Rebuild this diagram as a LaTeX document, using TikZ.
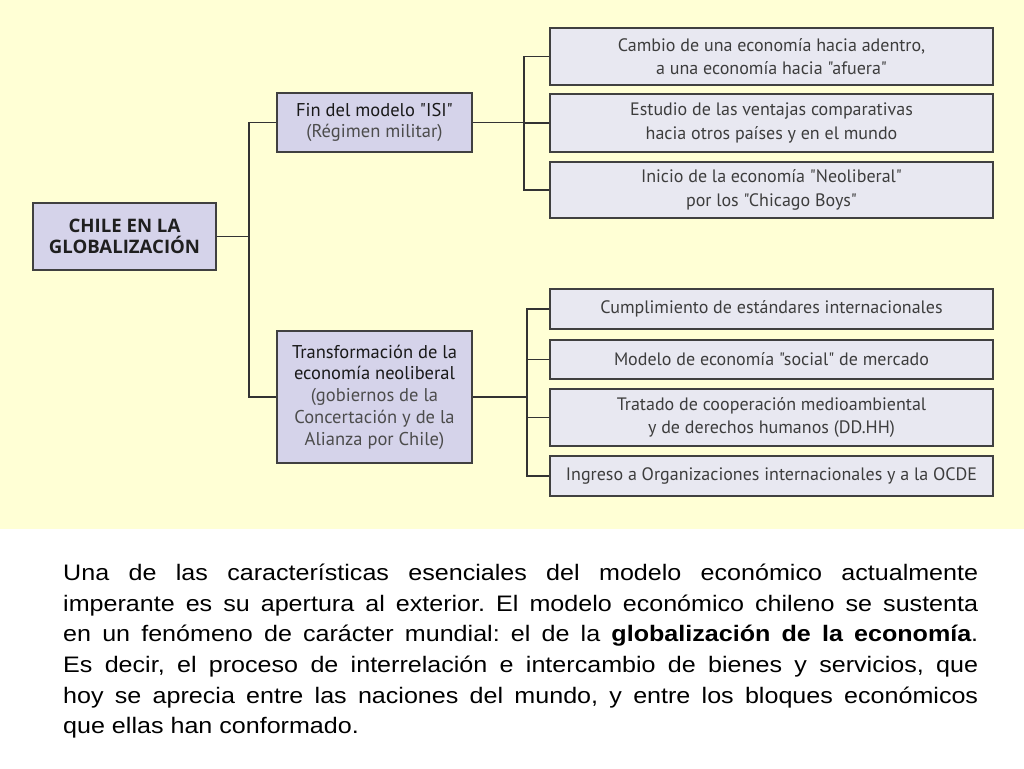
\documentclass[tikz,border=0pt]{standalone}
\usepackage{fontspec}
\newfontfamily\boxfont{PT Sans}
\newfontfamily\rootfont{Open Sans}
\newfontfamily\parafont{Liberation Sans}[FakeStretch=1.12]
\begin{document}
\begin{tikzpicture}[x=1pt,y=-1pt,
  conn/.style={draw=black!80, line width=1.1pt},
  midbox/.style={draw=black!75, line width=1.1pt, fill=midfill, inner sep=0pt,
     minimum width=195pt, align=center, text=black!90,
     font=\boxfont\fontsize{18.5}{21.7}\selectfont},
  leafbox/.style={draw=black!75, line width=1.1pt, fill=leaffill, inner sep=0pt,
     minimum width=443pt, align=center, text=black!76,
     font=\boxfont\fontsize{18}{23.3}\selectfont},
  rootbox/.style={draw=black!75, line width=1.1pt, fill=midfill, inner sep=0pt,
     minimum width=183pt, minimum height=67pt, align=center, text=black!88,
     font=\rootfont\bfseries\fontsize{18.6}{21.5}\selectfont}
]
\definecolor{bgyellow}{RGB}{255,255,213}
\definecolor{midfill}{RGB}{213,211,234}
\definecolor{leaffill}{RGB}{232,232,241}
\useasboundingbox (0,0) rectangle (1024,768);
\fill[white] (0,0) rectangle (1024,768);
\fill[bgyellow] (0,0) rectangle (1024,529);

\node[rootbox] (root) at (124.5,236.5) {CHILE EN LA\\GLOBALIZACIÓN};
\node[midbox, minimum height=59pt] (isi) at (374.5,122.5)
  {Fin del modelo "ISI"\\{\color{black!70}(Régimen militar)}};
\node[midbox, minimum height=132pt] (tr) at (374.5,397)
  {Transformación de la\\economía neoliberal\\{\color{black!70}(gobiernos de la}\\{\color{black!70}Concertación y de la}\\{\color{black!70}Alianza por Chile)}};

\node[leafbox, minimum height=57pt] (l1) at (771.5,56.5)
  {Cambio de una economía hacia adentro,\\a una economía hacia "afuera"};
\node[leafbox, minimum height=58pt] (l2) at (771.5,123)
  {Estudio de las ventajas comparativas\\hacia otros países y en el mundo};
\node[leafbox, minimum height=56pt] (l3) at (771.5,190)
  {Inicio de la economía "Neoliberal"\\por los "Chicago Boys"};
\node[leafbox, minimum height=40pt] (l4) at (771.5,309)
  {Cumplimiento de estándares internacionales};
\node[leafbox, minimum height=39pt] (l5) at (771.5,359.5)
  {Modelo de economía "social" de mercado};
\node[leafbox, minimum height=57pt] (l6) at (771.5,417.5)
  {Tratado de cooperación medioambiental\\y de derechos humanos (DD.HH)};
\node[leafbox, minimum height=40pt] (l7) at (771.5,476)
  {Ingreso a Organizaciones internacionales y a la OCDE};

\coordinate (t1) at (249,0);
\coordinate (b1) at (524,0);
\coordinate (b2) at (527,0);

\draw[conn] (root.east) -- (root.east -| t1);
\draw[conn] (isi.west) -- (isi.west -| t1) -- (tr.west -| t1) -- (tr.west);

\draw[conn] (isi.east) -- (isi.east -| b1);
\draw[conn] (l1.west) -- (l1.west -| b1) -- (l3.west -| b1) -- (l3.west);
\draw[conn] (l2.west) -- (l2.west -| b1);

\draw[conn] (tr.east) -- (tr.east -| b2);
\draw[conn] (l4.west) -- (l4.west -| b2) -- (l7.west -| b2) -- (l7.west);
\draw[conn] (l5.west) -- (l5.west -| b2);
\draw[conn] (l6.west) -- (l6.west -| b2);

\node[anchor=north west, inner sep=0pt] (para) at (63,564) {%
\begin{minipage}{915pt}\parafont\fontsize{22.4}{30.6}\selectfont\frenchspacing
\noindent Una de las características esenciales del modelo económico actualmente\linebreak
imperante es su apertura al exterior. El modelo económico chileno se sustenta\linebreak
en un fenómeno de carácter mundial: el de la \textbf{globalización de la economía}.\linebreak
Es decir, el proceso de interrelación e intercambio de bienes y servicios, que\linebreak
hoy se aprecia entre las naciones del mundo, y entre los bloques económicos\linebreak
que ellas han conformado.
\end{minipage}};
\end{tikzpicture}
\end{document}
